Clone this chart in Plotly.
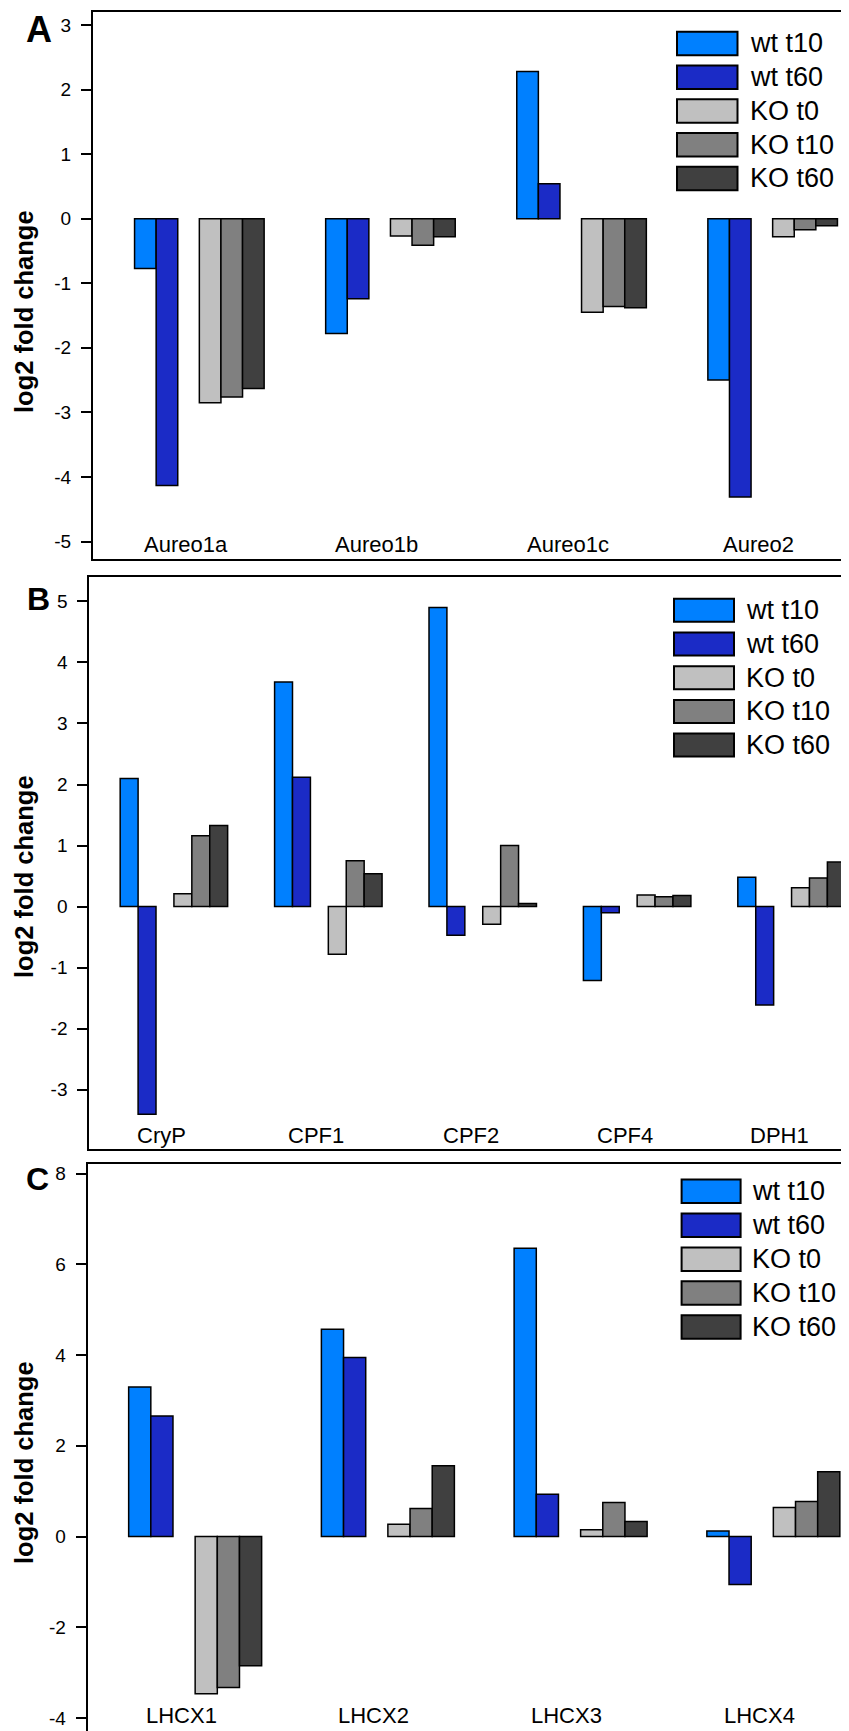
import plotly.graph_objects as go

# The page body has an 8px default margin, so the figure is offset by 8px on the page.
PAGE_W, PAGE_H = 849, 1731
OFF = 8
W, H = PAGE_W - OFF, PAGE_H - OFF
FONT = "Liberation Sans, Arial, Helvetica, sans-serif"

series_names = ["wt t10", "wt t60", "KO t0", "KO t10", "KO t60"]
series_colors = ["#0080FF", "#1B2BC6", "#C0C0C0", "#808080", "#404040"]
slot_left = [-2.5, -1.5, 0.5, 1.5, 2.5]   # left edge of each bar, in bar-width units

# ---- Panel A ----
cats_a = ["Aureo1a", "Aureo1b", "Aureo1c", "Aureo2"]
a_wt_t10 = [-0.77, -1.78, 2.28, -2.50]
a_wt_t60 = [-4.13, -1.24, 0.54, -4.31]
a_ko_t0 = [-2.85, -0.27, -1.45, -0.28]
a_ko_t10 = [-2.76, -0.41, -1.36, -0.17]
a_ko_t60 = [-2.63, -0.28, -1.38, -0.11]
ticks_a = [-5, -4, -3, -2, -1, 0, 1, 2, 3]

# ---- Panel B ----
cats_b = ["CryP", "CPF1", "CPF2", "CPF4", "DPH1"]
b_wt_t10 = [2.10, 3.68, 4.90, -1.21, 0.48]
b_wt_t60 = [-3.40, 2.12, -0.47, -0.10, -1.61]
b_ko_t0 = [0.21, -0.78, -0.29, 0.19, 0.31]
b_ko_t10 = [1.16, 0.75, 1.00, 0.16, 0.47]
b_ko_t60 = [1.33, 0.54, 0.05, 0.18, 0.73]
ticks_b = [-3, -2, -1, 0, 1, 2, 3, 4, 5]

# ---- Panel C ----
cats_c = ["LHCX1", "LHCX2", "LHCX3", "LHCX4"]
c_wt_t10 = [3.30, 4.57, 6.36, 0.12]
c_wt_t60 = [2.66, 3.95, 0.93, -1.06]
c_ko_t0 = [-3.47, 0.27, 0.15, 0.64]
c_ko_t10 = [-3.33, 0.62, 0.75, 0.77]
c_ko_t60 = [-2.85, 1.56, 0.33, 1.43]
ticks_c = [-4, -2, 0, 2, 4, 6, 8]


def px_x(v):
    return (v - OFF) / W


def px_y(v):
    return 1 - (v - OFF) / H


panels = [
    dict(cats=cats_a, vals=[a_wt_t10, a_wt_t60, a_ko_t0, a_ko_t10, a_ko_t60],
         left=93, top=12, bot=559, yr=[-5.27, 3.20], yt=ticks_a, slot=0.113,
         xr=[-0.5, 3.456], letter="A", lpos=(25, 25), lsize=36, title_y=312,
         leg_x=(677, 737.5), leg_top=31.7, leg_pitch=33.75, leg_h=23.5, leg_tx=748,
         lab_y=544.5, bottom_frame=True),
    dict(cats=cats_b, vals=[b_wt_t10, b_wt_t60, b_ko_t0, b_ko_t10, b_ko_t60],
         left=89.3, top=577.3, bot=1149, yr=[-3.971, 5.395], yt=ticks_b, slot=0.116,
         xr=[-0.49, 4.43], letter="B", lpos=(26, 599), lsize=32, title_y=877,
         leg_x=(674, 734), leg_top=598.8, leg_pitch=33.7, leg_h=23, leg_tx=744,
         lab_y=1135.2, bottom_frame=True),
    dict(cats=cats_c, vals=[c_wt_t10, c_wt_t60, c_ko_t0, c_ko_t10, c_ko_t60],
         left=87.7, top=1164.3, bot=PAGE_H, yr=[-4.29, 8.21], yt=ticks_c, slot=0.115,
         xr=[-0.5, 3.45], letter="C", lpos=(25, 1179), lsize=32, title_y=1463,
         leg_x=(681.6, 740.6), leg_top=1179.6, leg_pitch=33.9, leg_h=23.5, leg_tx=749.5,
         lab_y=1715.5, bottom_frame=False),
]

fig = go.Figure()
layout = dict(width=W, height=H, autosize=False,
              margin=dict(l=0, r=0, t=0, b=0, pad=0),
              paper_bgcolor="white", plot_bgcolor="white",
              barmode="overlay", showlegend=False,
              font=dict(family=FONT, color="black"))
annotations = []
shapes = []

for i, p in enumerate(panels):
    n = i + 1
    xs = "" if n == 1 else str(n)
    xa, ya = "x" + xs, "y" + xs
    tick_ax = "xaxis" + str(n + 3)
    positions = list(range(len(p["cats"])))
    ydom = [max(0.0, px_y(p["bot"])), px_y(p["top"])]
    xdom = [px_x(p["left"]), 1.0]

    for s, vals in enumerate(p["vals"]):
        fig.add_trace(go.Bar(
            x=positions, y=vals, name=series_names[s],
            width=p["slot"], offset=slot_left[s] * p["slot"],
            marker=dict(color=series_colors[s], line=dict(color="black", width=1.5)),
            xaxis=xa, yaxis=ya, showlegend=False))

    if p["bottom_frame"]:
        xaxis_main = dict(domain=xdom, range=p["xr"], anchor=ya, showline=True,
                          linecolor="black", linewidth=2, mirror=True, ticks="",
                          showticklabels=False, showgrid=False, zeroline=False)
    else:
        xaxis_main = dict(domain=xdom, range=p["xr"], anchor=ya, side="top", showline=True,
                          linecolor="black", linewidth=2, ticks="",
                          showticklabels=False, showgrid=False, zeroline=False)
    layout["xaxis" + xs] = xaxis_main
    layout["yaxis" + xs] = dict(domain=ydom, range=p["yr"], anchor=xa, showline=True,
                                linecolor="black", linewidth=2, ticks="outside",
                                ticklen=10, tickwidth=1.5, tickcolor="black",
                                tickvals=p["yt"], ticktext=[str(v) for v in p["yt"]],
                                ticklabelstandoff=6,
                                tickfont=dict(size=19, family=FONT, color="black"),
                                showgrid=False, zeroline=False)
    # zero line with category tick marks hanging below it
    zero_pos = ydom[0] + (0 - p["yr"][0]) / (p["yr"][1] - p["yr"][0]) * (ydom[1] - ydom[0])
    half_ticks = [k * 0.5 for k in range(-1, 2 * len(p["cats"]) + 1)]
    layout[tick_ax] = dict(overlaying=xa, anchor="free", position=zero_pos,
                           range=p["xr"], side="bottom", showline=True,
                           linecolor="black", linewidth=2, ticks="outside",
                           ticklen=12, tickwidth=2, tickcolor="black",
                           tickvals=half_ticks, showticklabels=False,
                           showgrid=False, zeroline=False)

    # category labels (inside the frame, at the bottom)
    for k, c in enumerate(p["cats"]):
        annotations.append(dict(x=k, xref=xa, y=px_y(p["lab_y"]), yref="paper",
                                text=c, showarrow=False, xanchor="center", yanchor="middle",
                                xshift=-3, font=dict(size=22, family=FONT, color="black")))
    # y axis title
    annotations.append(dict(x=px_x(24), y=px_y(p["title_y"]), xref="paper", yref="paper",
                            text="<b>log2 fold change</b>", textangle=-90, showarrow=False,
                            xanchor="center", yanchor="middle",
                            font=dict(size=25.5, family=FONT, color="black")))
    # panel letter
    if i == 0:
        letter_y, letter_anchor = 1.0, "top"
    else:
        letter_y, letter_anchor = px_y(p["lpos"][1]), "middle"
    annotations.append(dict(x=px_x(p["lpos"][0]), y=letter_y, xref="paper",
                            yref="paper", text="<b>" + p["letter"] + "</b>", showarrow=False,
                            xanchor="left", yanchor=letter_anchor, borderpad=0,
                            font=dict(size=p["lsize"], family=FONT, color="black")))
    # legend (boxes + labels)
    for s, name in enumerate(series_names):
        t = p["leg_top"] + s * p["leg_pitch"]
        b = t + p["leg_h"]
        shapes.append(dict(type="rect", xref="paper", yref="paper",
                           x0=px_x(p["leg_x"][0]), x1=px_x(p["leg_x"][1]),
                           y0=px_y(b), y1=px_y(t), fillcolor=series_colors[s],
                           line=dict(color="black", width=2)))
        annotations.append(dict(x=px_x(p["leg_tx"]), y=px_y((t + b) / 2), xref="paper",
                                yref="paper", text=name, showarrow=False,
                                xanchor="left", yanchor="middle",
                                font=dict(size=27, family=FONT, color="black")))

layout["annotations"] = annotations
layout["shapes"] = shapes
fig.update_layout(**layout)
fig.write_html("out.html")
